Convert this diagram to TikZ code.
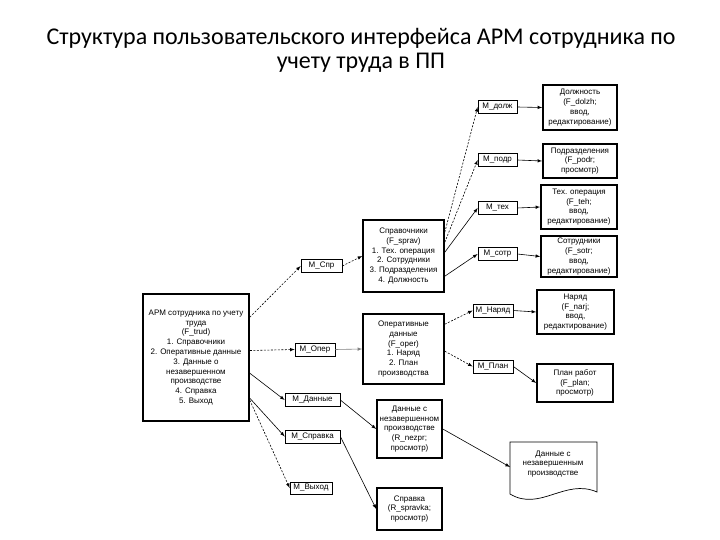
\documentclass[tikz,border=0pt]{standalone}
\usepackage{fontspec}
\setmainfont{Carlito}
\newfontfamily\boxfont{Liberation Sans}
\usetikzlibrary{calc}
\tikzset{
  mbox/.style={draw, line width=0.7pt, font=\boxfont\fontsize{8}{9}\selectfont, inner sep=0pt, minimum height=13pt},
  bigbox/.style={draw, line width=1.6pt, font=\boxfont\fontsize{8}{9.8}\selectfont, align=center, inner sep=1pt},
  arr/.style={-latex, line width=0.6pt},
  darr/.style={arr, dash pattern=on 2pt off 1.5pt}
}
\begin{document}
\begin{tikzpicture}[x=1pt,y=-1pt]
        \useasboundingbox (0,0) rectangle (720,540);
        \node[font=\fontsize{24}{24}\selectfont, align=center] (title) at (361,50)
            {Структура пользовательского интерфейса АРМ сотрудника по\\учету труда в ПП};
        % главная форма
        \node[bigbox, minimum width=106pt, minimum height=127pt] (main) at (196,357.5)
            {АРМ сотрудника по учету\\труда\\(F\_trud)\\1. Справочники\\2. Оперативные данные\\3. Данные о\\незавершенном\\производстве\\4. Справка\\5. Выход};
        % меню первого уровня
        \node[mbox, minimum width=41pt] (mspr) at (321.5,266) {M\_Спр};
        \node[mbox, minimum width=40pt] (moper) at (315,349.5) {M\_Опер};
        \node[mbox, minimum width=55pt] (mdann) at (312.5,400) {M\_Данные};
        \node[mbox, minimum width=55pt] (msprav) at (312.5,436.5) {M\_Справка};
        \node[mbox, minimum width=42pt, minimum height=12pt] (mvyh) at (311,488) {M\_Выход};
        % формы второго уровня
        \node[bigbox, minimum width=81pt, minimum height=72pt] (spr) at (403.5,256)
            {Справочники\\(F\_sprav)\\1. Тех. операция\\2. Сотрудники\\3. Подразделения\\4. Должность};
        \node[bigbox, minimum width=81pt, minimum height=70pt] (oper) at (403.5,349)
            {Оперативные\\данные\\(F\_oper)\\1. Наряд\\2. План\\производства};
        \node[bigbox, minimum width=65pt, minimum height=58pt] (dann) at (409.5,429)
            {Данные с\\незавершенном\\производстве\\(R\_nezpr;\\просмотр)};
        \node[bigbox, minimum width=65pt, minimum height=42pt] (sprav) at (409.5,509)
            {Справка\\(R\_spravka;\\просмотр)};
        % меню справочников
        \node[mbox, minimum width=39pt] (mdolzh) at (497.5,107) {M\_долж};
        \node[mbox, minimum width=39pt] (mpodr) at (497.5,160) {M\_подр};
        \node[mbox, minimum width=39pt] (mteh) at (497.5,208) {M\_тех};
        \node[mbox, minimum width=39pt] (msotr) at (497.5,254) {M\_сотр};
        \node[mbox, minimum width=40pt] (mnar) at (493,310.5) {M\_Наряд};
        \node[mbox, minimum width=40pt] (mplan) at (493,366.5) {M\_План};
        % формы третьего уровня
        \node[bigbox, minimum width=74pt, minimum height=45pt] (dolzh) at (580,107.5)
            {Должность\\(F\_dolzh;\\ввод,\\редактирование)};
        \node[bigbox, minimum width=74pt, minimum height=34pt] (podr) at (580,161)
            {Подразделения\\(F\_podr;\\просмотр)};
        \node[bigbox, minimum width=76pt, minimum height=44pt] (teh) at (579,207)
            {Тех. операция\\(F\_teh;\\ввод,\\редактирование)};
        \node[bigbox, minimum width=76pt, minimum height=41pt] (sotr) at (579,256.5)
            {Сотрудники\\(F\_sotr;\\ввод,\\редактирование)};
        \node[bigbox, minimum width=77pt, minimum height=44pt] (nar) at (575.5,312)
            {Наряд\\(F\_narj;\\ввод,\\редактирование)};
        \node[bigbox, minimum width=76pt, minimum height=38pt] (plan) at (575,383)
            {План работ\\(F\_plan;\\просмотр)};
        % документ
        \draw[line width=0.7pt] (510,442) -- (597,442) -- (597,492)
            .. controls (565,478) and (540,512) .. (510,494) -- cycle;
        \node[font=\boxfont\fontsize{8}{9.8}\selectfont, align=center] (doc) at (553,464)
            {Данные с\\незавершенным\\производстве};
        \coordinate (docin) at (510,467);
        % связи
        \draw[darr] ($(main.north east)+(0,24)$) -- (mspr.west);
        \draw[darr] ($(main.east)+(0,-7)$) -- (moper.west);
        \draw[arr] ($(main.north east)+(0,80)$) -- (mdann.west);
        \draw[arr] ($(main.north east)+(0,105)$) -- (msprav.west);
        \draw[darr] ($(main.north east)+(0,107)$) -- (mvyh.west);
        \draw[darr] (mspr.east) -- (spr.west);
        \draw[arr, gray] (moper.east) -- (oper.west);
        \draw[darr] ($(spr.north east)+(0,13)$) -- (mdolzh.west);
        \draw[darr] ($(spr.north east)+(0,23)$) -- (mpodr.west);
        \draw[arr] ($(spr.north east)+(0,33)$) -- (mteh.west);
        \draw[arr] ($(spr.north east)+(0,57)$) -- (msotr.west);
        \draw[darr] ($(oper.north east)+(0,11)$) -- (mnar.west);
        \draw[darr] ($(oper.north east)+(0,38)$) -- (mplan.west);
        \draw[arr] (mdolzh.east) -- (dolzh.west);
        \draw[arr] (mpodr.east) -- (podr.west);
        \draw[arr] (mteh.east) -- (teh.west);
        \draw[arr] (msotr.east) -- (sotr.west);
        \draw[arr] (mnar.east) -- (nar.west);
        \draw[arr] (mplan.east) -- (plan.west);
        \draw[arr] (mdann.east) -- (dann.west);
        \draw[arr] (msprav.east) -- (sprav.west);
        \draw[arr] (dann.east) -- (docin);
    \end{tikzpicture}
\end{document}
